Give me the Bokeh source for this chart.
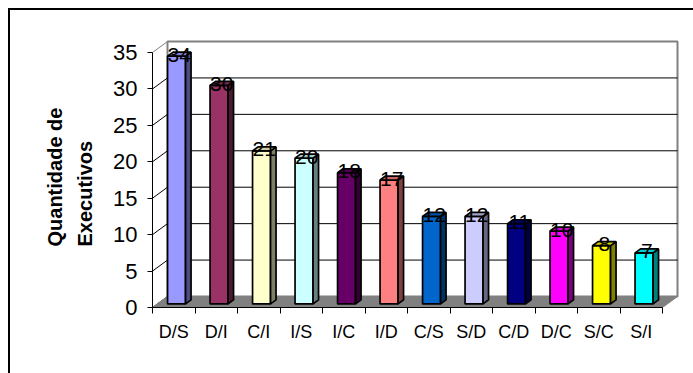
from bokeh.plotting import figure
from bokeh.models import Range1d, FixedTicker, Title
from bokeh.embed import file_html
from bokeh.resources import INLINE
from bokeh.core.properties import value

# ---- data ----
categories = ["D/S", "D/I", "C/I", "I/S", "I/C", "I/D", "C/S", "S/D", "C/D", "D/C", "S/C", "S/I"]
counts = [34, 30, 21, 20, 18, 17, 12, 12, 11, 10, 8, 7]
colors = ["#9999FF", "#993366", "#FFFFCC", "#CCFFFF", "#660066", "#FF8080",
          "#0066CC", "#CCCCFF", "#000080", "#FF00FF", "#FFFF00", "#00FFFF"]
y_ticks = [0, 5, 10, 15, 20, 25, 30, 35]
y_title = ["Quantidade de", "Executivos"]

FONT = "Liberation Sans"
n = len(categories)
PX_X = 42.5          # pixels per category
PX_Y = 255.0 / 35.0  # pixels per unit
FRAME_W, FRAME_H = 529, 268
LEFT0 = 0.5          # data x at frame left (front axis)
YMAX = y_ticks[-1]

# depth offsets (data units)
WX, WY = 15 / PX_X, 11 / PX_Y        # wall depth
BX, BY = 2.8 / PX_X, 3.6 / PX_Y      # bar front face shift from front plane
DX, DY = 5.5 / PX_X, 4.0 / PX_Y      # bar depth
BW = 18 / PX_X                       # bar width


def shade(hexcol, f):
    r, g, b = int(hexcol[1:3], 16), int(hexcol[3:5], 16), int(hexcol[5:7], 16)
    return "#%02x%02x%02x" % (int(r * f), int(g * f), int(b * f))


p = figure(frame_width=FRAME_W, frame_height=FRAME_H,
           x_range=Range1d(LEFT0, LEFT0 + FRAME_W / PX_X),
           y_range=Range1d(0, FRAME_H / PX_Y),
           min_border_left=152, min_border_right=12, min_border_top=39, min_border_bottom=66,
           output_backend="svg", toolbar_location=None)
p.background_fill_color = "white"
p.border_fill_color = None
p.outline_line_color = None
p.xgrid.visible = False
p.ygrid.visible = False
# outer chart border (left & top edges visible, rest beyond the window)
p.styles = {"background-color": "white",
            "box-shadow": "inset 8px 8px 0 0 white, inset 10px 10px 0 0 black"}

x_lo, x_hi = LEFT0, LEFT0 + n

# back wall
p.quad(left=[x_lo + WX], right=[x_hi + WX], bottom=[WY], top=[YMAX + WY],
       fill_color="white", line_color="#808080", line_width=2)
# gridlines on back wall
inner = [t for t in y_ticks if 0 < t < YMAX]
p.segment(x0=[x_lo + WX] * len(inner), y0=[t + WY for t in inner],
          x1=[x_hi + WX] * len(inner), y1=[t + WY for t in inner],
          line_color="black", line_width=1)
# side diagonals
p.segment(x0=[x_lo] * len(y_ticks), y0=y_ticks,
          x1=[x_lo + WX] * len(y_ticks), y1=[t + WY for t in y_ticks],
          line_color=["#808080" if t == YMAX else "black" for t in y_ticks], line_width=1)
# floor
p.patch(x=[x_lo, x_hi, x_hi + WX, x_lo + WX], y=[0, 0, WY, WY],
        fill_color="#808080", line_color="#808080", line_width=1)

# bars
centers = [i + 1 for i in range(n)]
lefts = [c - BW / 2 + BX for c in centers]
rights = [c + BW / 2 + BX for c in centers]
bots = [BY] * n
tops = [BY + v for v in counts]

side_xs = [[r, r + DX, r + DX, r] for r in rights]
side_ys = [[b, b + DY, t + DY, t] for b, t in zip(bots, tops)]
top_xs = [[l, r, r + DX, l + DX] for l, r in zip(lefts, rights)]
top_ys = [[t, t, t + DY, t + DY] for t in tops]

p.quad(left=lefts, right=rights, bottom=bots, top=tops,
       fill_color=colors, line_color="black", line_width=1.7)
p.patches(xs=side_xs, ys=side_ys, fill_color=[shade(c, 0.5) for c in colors],
          line_color="black", line_width=1.7)
p.patches(xs=top_xs, ys=top_ys, fill_color=[shade(c, 0.8) for c in colors],
          line_color="black", line_width=1.7)

# data labels
p.text(x=[c + BX + DX / 2 for c in centers], y=[t + 1.5 / PX_Y for t in tops],
       text=[str(v) for v in counts], text_align="center", text_baseline="alphabetic",
       text_font=value(FONT), text_font_size="21px", text_color="black")

# axes
yax = p.yaxis[0]
yax.ticker = FixedTicker(ticks=y_ticks, minor_ticks=[])
yax.bounds = (0, YMAX)
yax.axis_line_color = "black"
yax.major_tick_out = 5
yax.major_tick_in = 0
yax.major_tick_line_color = "black"
yax.major_label_standoff = 10
yax.major_label_text_font = FONT
yax.major_label_text_font_size = "22px"
yax.major_label_text_color = "black"

# two-line y-axis title, lines aligned at their start (bottom)
p.add_layout(Title(text="\n".join(y_title), align="left", vertical_align="bottom",
                   offset=61, standoff=28, text_font=FONT, text_font_size="20px",
                   text_font_style="bold", text_color="black", text_line_height=1.4),
             "left")

xax = p.xaxis[0]
xax.ticker = FixedTicker(ticks=centers, minor_ticks=[x_lo + i for i in range(n + 1)])
xax.bounds = (x_lo, x_hi)
xax.axis_line_color = "black"
xax.major_tick_out = 0
xax.major_tick_in = 0
xax.minor_tick_out = 6
xax.minor_tick_in = 0
xax.minor_tick_line_color = "black"
xax.major_label_overrides = {c: lab for c, lab in zip(centers, categories)}
xax.major_label_standoff = 8
xax.major_label_text_font = FONT
xax.major_label_text_font_size = "18px"
xax.major_label_text_color = "black"

open("out.html", "w").write(file_html(p, INLINE))
